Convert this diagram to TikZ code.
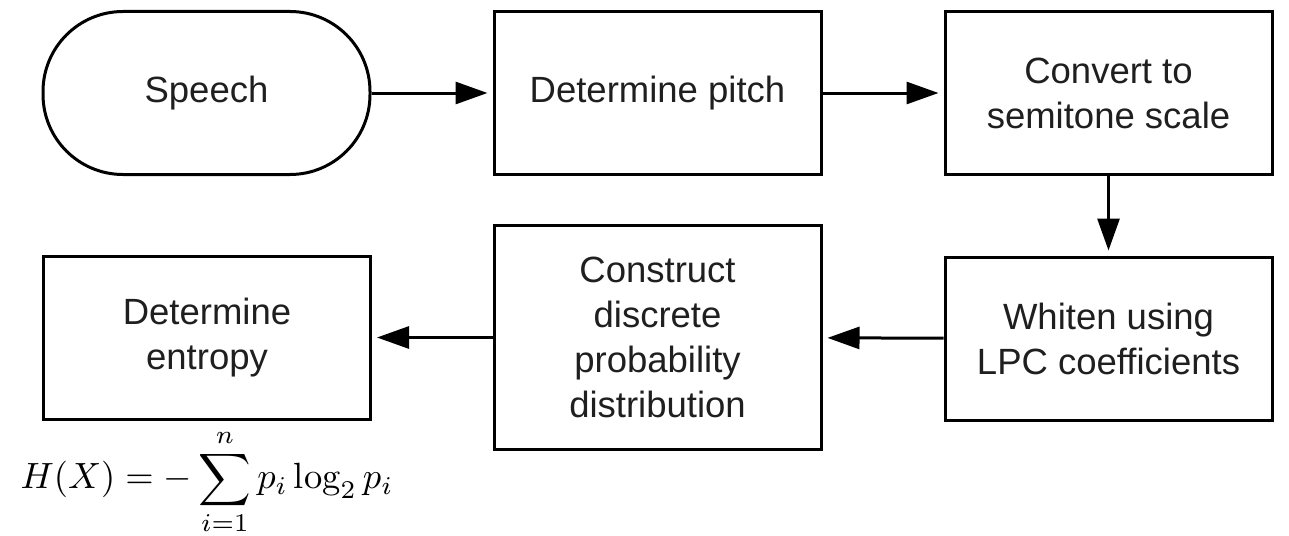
\documentclass[tikz,border=0pt]{standalone}
\usepackage{fontspec}
\setsansfont{Liberation Sans}
\usetikzlibrary{arrows.meta}
\tikzset{
  box/.style={draw, line width=3pt, minimum width=327pt, minimum height=163pt, inner sep=0pt,
    align=center, font=\sffamily\fontsize{36.5}{45}\selectfont, text=black!88},
  term/.style={box, rounded corners=80pt},
  flow/.style={line width=3pt, -{Triangle[length=32pt,width=22pt]}, shorten >=5pt}
}
\begin{document}
\begin{tikzpicture}[x=1pt,y=-1pt]
\useasboundingbox (0,0) rectangle (1289,535);
\node[term] (speech) at (206.5,93) {Speech};
\node[box] (pitch) at (657.5,93) {Determine pitch};
\node[box] (semi) at (1108.5,93) {Convert to\\semitone scale};
\node[box] (white) at (1108.5,338.5) {Whiten using\\LPC coefficients};
\node[box, minimum height=224pt] (pdf) at (657.5,337.5) {Construct\\discrete\\probability\\distribution};
\node[box] (ent) at (207,337.5) {Determine\\entropy};
\node[anchor=center, inner sep=0pt] (eq) at (207,482) {\scalebox{3.65}{$\displaystyle H(X) = -\sum_{i=1}^{n} p_i \log_2 p_i$}};
\draw[flow] (speech) -- (pitch);
\draw[flow] (pitch) -- (semi);
\draw[flow] (semi) -- (white);
\draw[flow] (white) -- (pdf);
\draw[flow] (pdf) -- (ent);
\end{tikzpicture}
\end{document}
